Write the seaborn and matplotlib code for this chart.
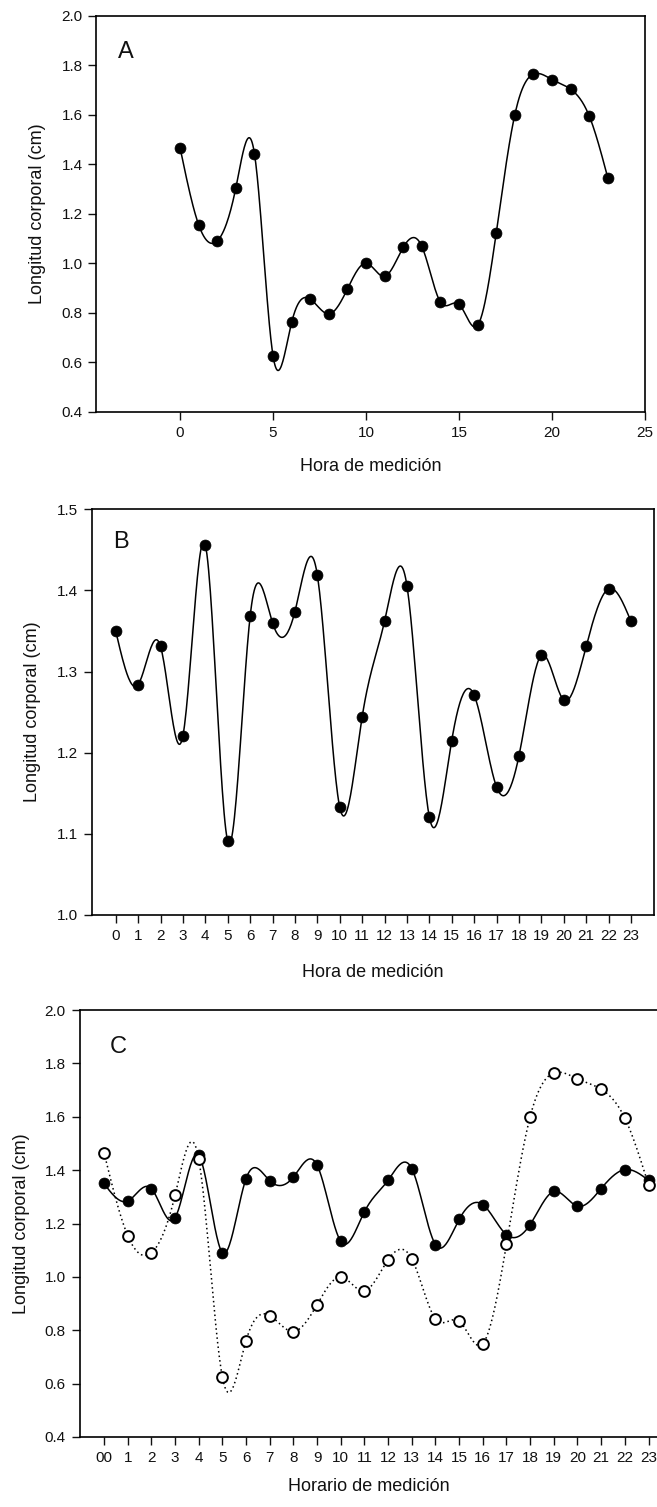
import numpy as np
import pandas as pd
import matplotlib
matplotlib.use("Agg")
import matplotlib.pyplot as plt
import seaborn as sns

# Mean body length per hour of measurement
hours = list(range(24))
length_a = [1.466, 1.155, 1.090, 1.305, 1.442, 0.625, 0.761, 0.855, 0.795, 0.896,
            1.000, 0.947, 1.064, 1.068, 0.843, 0.834, 0.749, 1.122, 1.600, 1.764,
            1.742, 1.703, 1.595, 1.345]
length_b = [1.350, 1.284, 1.331, 1.221, 1.456, 1.091, 1.368, 1.360, 1.374, 1.419,
            1.133, 1.244, 1.362, 1.406, 1.121, 1.215, 1.271, 1.158, 1.196, 1.320,
            1.265, 1.331, 1.402, 1.362]
ticks_a = [0, 5, 10, 15, 20, 25]
labels_b = [str(h) for h in hours]
labels_c = ["00"] + [str(h) for h in hours[1:]]

sns.set_theme(style="ticks")
plt.rcParams["font.family"] = ["Liberation Sans", "DejaVu Sans"]
plt.rcParams["text.color"] = "#111111"
plt.rcParams["axes.labelcolor"] = "#111111"
plt.rcParams["xtick.color"] = "#111111"
plt.rcParams["ytick.color"] = "#111111"


def natural_spline(x, y, n=600):
    """Natural cubic spline through (x, y), evaluated on a dense grid."""
    x = np.asarray(x, float)
    y = np.asarray(y, float)
    k = len(x)
    h = np.diff(x)
    A = np.zeros((k, k))
    r = np.zeros(k)
    A[0, 0] = A[-1, -1] = 1.0
    for i in range(1, k - 1):
        A[i, i - 1] = h[i - 1]
        A[i, i] = 2 * (h[i - 1] + h[i])
        A[i, i + 1] = h[i]
        r[i] = 3 * ((y[i + 1] - y[i]) / h[i] - (y[i] - y[i - 1]) / h[i - 1])
    c = np.linalg.solve(A, r)
    b = (y[1:] - y[:-1]) / h - h * (2 * c[:-1] + c[1:]) / 3
    d = (c[1:] - c[:-1]) / (3 * h)
    xs = np.linspace(x[0], x[-1], n)
    idx = np.clip(np.searchsorted(x, xs) - 1, 0, k - 2)
    t = xs - x[idx]
    ys = y[idx] + b[idx] * t + c[idx] * t ** 2 + d[idx] * t ** 3
    return pd.DataFrame({"hora": xs, "longitud": ys})


df_a = pd.DataFrame({"hora": hours, "longitud": length_a})
df_b = pd.DataFrame({"hora": hours, "longitud": length_b})
curve_a = natural_spline(hours, length_a)
curve_b = natural_spline(hours, length_b)

fig = plt.figure(figsize=(6.57, 15.07), dpi=100)
W, H = 657.0, 1507.0


def make_axes(left, right, top, bottom):
    return fig.add_axes([left / W, 1 - bottom / H, (right - left) / W, (bottom - top) / H])


ax_a = make_axes(96.4, 645.0, 15.7, 411.7)
ax_b = make_axes(92.2, 654.0, 509.3, 915.0)
ax_c = make_axes(79.6, 657.5, 1010.0, 1437.0)

TICK_FS = 11
LABEL_FS = 13
LETTER_FS = 17
LW = 1.1
MS = 62

# Panel A
sns.lineplot(data=curve_a, x="hora", y="longitud", ax=ax_a, color="black", lw=LW)
sns.scatterplot(data=df_a, x="hora", y="longitud", ax=ax_a, color="black", s=MS,
                edgecolor="black", linewidth=0.5, zorder=3)
ax_a.set_xlim(-4.5, 25)
ax_a.set_ylim(0.4, 2.0)
ax_a.set_xticks(ticks_a)
ax_a.set_yticks(np.arange(0.4, 2.01, 0.2))
ax_a.yaxis.set_major_formatter(matplotlib.ticker.FormatStrFormatter("%.1f"))

# Panel B
sns.lineplot(data=curve_b, x="hora", y="longitud", ax=ax_b, color="black", lw=LW)
sns.scatterplot(data=df_b, x="hora", y="longitud", ax=ax_b, color="black", s=MS,
                edgecolor="black", linewidth=0.5, zorder=3)
ax_b.set_xlim(-1.05, 24.03)
ax_b.set_ylim(1.0, 1.5)
ax_b.set_xticks(hours)
ax_b.set_xticklabels(labels_b)
ax_b.set_yticks(np.arange(1.0, 1.501, 0.1))
ax_b.yaxis.set_major_formatter(matplotlib.ticker.FormatStrFormatter("%.1f"))

# Panel C: both series together
sns.lineplot(data=curve_b, x="hora", y="longitud", ax=ax_c, color="black", lw=LW)
sns.lineplot(data=curve_a, x="hora", y="longitud", ax=ax_c, color="black", lw=1.1,
             linestyle=(0, (1, 2)))
sns.scatterplot(data=df_b, x="hora", y="longitud", ax=ax_c, color="black", s=MS,
                edgecolor="black", linewidth=0.5, zorder=3)
sns.scatterplot(data=df_a, x="hora", y="longitud", ax=ax_c, color="white", s=60,
                edgecolor="black", linewidth=1.4, zorder=4)
ax_c.set_xlim(-1.03, 23.38)
ax_c.set_ylim(0.4, 2.0)
ax_c.set_xticks(hours)
ax_c.set_xticklabels(labels_c)
ax_c.set_yticks(np.arange(0.4, 2.01, 0.2))
ax_c.yaxis.set_major_formatter(matplotlib.ticker.FormatStrFormatter("%.1f"))

panels = [
    (ax_a, "A", "Hora de medición", (0.054, 0.908), -0.1065, -0.1395),
    (ax_b, "B", "Hora de medición", (0.0513, 0.9206), -0.107, -0.1405),
    (ax_c, "C", "Horario de medición", (0.0665, 0.913), -0.0998, -0.117),
]
for ax, letter, xlab, pos, ylx, xly in panels:
    for side in ["top", "right", "left", "bottom"]:
        ax.spines[side].set_visible(True)
        ax.spines[side].set_linewidth(1.2)
        ax.spines[side].set_color("black")
    ax.tick_params(axis="both", direction="out", length=6, width=1.0,
                   labelsize=TICK_FS, top=False, right=False, pad=4)
    ax.set_xlabel(xlab, fontsize=LABEL_FS, va="center")
    ax.set_ylabel("Longitud corporal (cm)", fontsize=LABEL_FS, va="center")
    ax.xaxis.set_label_coords(0.5, xly)
    ax.yaxis.set_label_coords(ylx, 0.5)
    ax.text(pos[0], pos[1], letter, transform=ax.transAxes, fontsize=LETTER_FS,
            ha="center", va="center")
    ax.set_facecolor("white")

fig.savefig("out.png", dpi=100, facecolor="white")
